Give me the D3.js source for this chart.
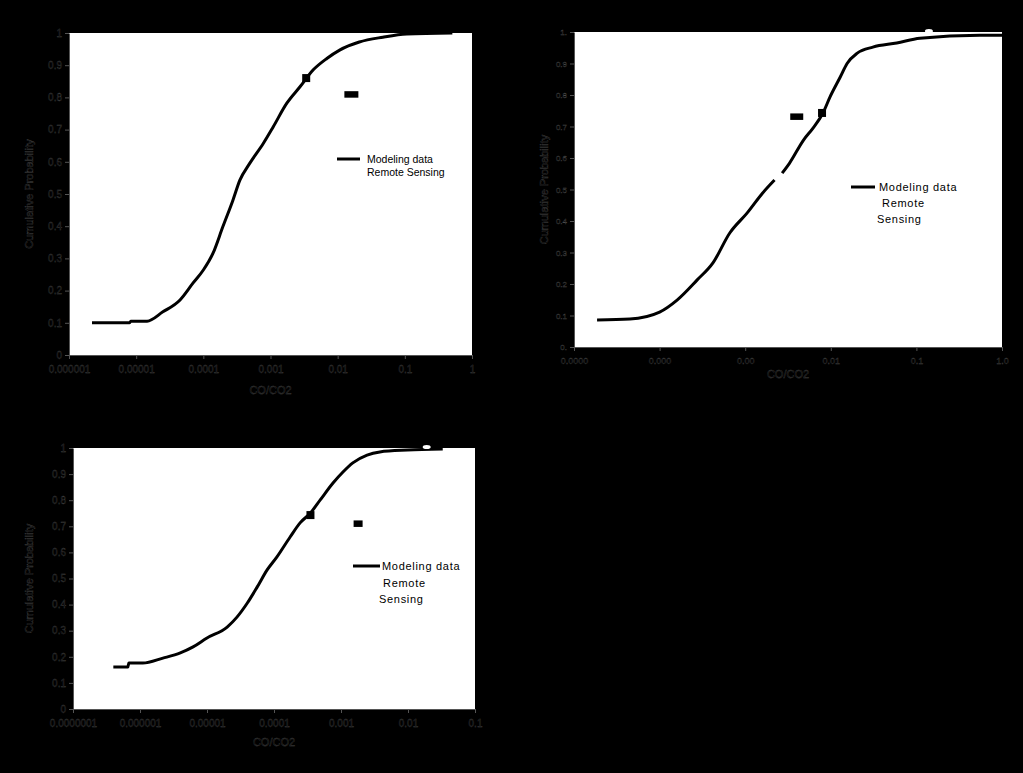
<!DOCTYPE html>
<html><head><meta charset="utf-8">
<script src="https://cdn.jsdelivr.net/npm/d3@7"></script>
<style>
html,body{margin:0;padding:0;background:#000;}
svg{display:block;}
</style></head>
<body><svg id="c" width="1023" height="773"></svg>
<script>
// ---------- data ----------
const yTicks = [0,0.1,0.2,0.3,0.4,0.5,0.6,0.7,0.8,0.9,1];
const yTickLabels = ["0","0.1","0.2","0.3","0.4","0.5","0.6","0.7","0.8","0.9","1"];
const yTickLabels2 = ["0.","0.1","0.2","0.3","0.4","0.5","0.6","0.7","0.8","0.9","1."];

const xTicks1 = [1e-6,1e-5,1e-4,1e-3,1e-2,1e-1,1];
const xTickLabels1 = ["0.000001","0.00001","0.0001","0.001","0.01","0.1","1"];
const xTicks2 = [1e-5,1e-4,1e-3,1e-2,1e-1,1];
const xTickLabels2 = ["0.0000","0.000","0.00","0.01","0.1","1.0"];
const xTicks3 = [1e-7,1e-6,1e-5,1e-4,1e-3,1e-2,1e-1];
const xTickLabels3 = ["0.0000001","0.000001","0.00001","0.0001","0.001","0.01","0.1"];

const series = ["Modeling data","Remote Sensing"];

// panel 1 modeling CDF
const model1X = [2.2e-6,8e-6,8.3e-6,1.45e-5,2.5e-5,4.5e-5,7e-5,1e-4,1.4e-4,1.95e-4,2.75e-4,3.5e-4,4.9e-4,7.8e-4,1.1e-3,1.75e-3,2.75e-3,4.3e-3,6.9e-3,1.07e-2,2.1e-2,4.7e-2,0.107,0.51];
const model1Y = [0.1,0.1,0.105,0.105,0.134,0.171,0.223,0.264,0.317,0.398,0.48,0.543,0.595,0.657,0.709,0.782,0.833,0.885,0.921,0.947,0.972,0.987,0.997,1.0];
// panel 2 modeling CDF (gap shown as null)
const model2X = [1.86e-5,4.5e-5,1e-4,1.6e-4,2.75e-4,4.2e-4,6.6e-4,1.05e-3,1.6e-3,2.2e-3,null,2.7e-3,3.3e-3,4.8e-3,6.2e-3,8.1e-3,9.8e-3,1.29e-2,1.55e-2,2.04e-2,3.1e-2,5.9e-2,0.11,0.55,1];
const model2Y = [0.086,0.089,0.111,0.149,0.213,0.267,0.362,0.425,0.489,0.53,null,0.552,0.584,0.657,0.695,0.743,0.794,0.857,0.9,0.933,0.952,0.965,0.98,0.99,0.99];
// panel 3 modeling CDF
const model3X = [4e-7,6.6e-7,6.8e-7,1.1e-6,2.2e-6,4e-6,6.2e-6,1e-5,2e-5,2.8e-5,4e-5,5.6e-5,7.9e-5,1.1e-4,1.74e-4,2.45e-4,3.5e-4,4.9e-4,7.6e-4,1.07e-3,1.5e-3,2.45e-3,3.8e-3,9.8e-3,3.3e-2];
const model3Y = [0.161,0.161,0.176,0.176,0.195,0.215,0.238,0.272,0.314,0.352,0.406,0.467,0.533,0.582,0.659,0.713,0.751,0.801,0.866,0.908,0.943,0.973,0.985,0.992,0.996];

// remote sensing points (x, y)
const remote1 = [0.016, 0.81];
const remote2 = [0.004, 0.732];
const remote3 = [0.0018, 0.711];
// highlighted points on the modeling curves
const mark1 = [0.0034, 0.86];
const mark2 = [0.0079, 0.743];
const mark3 = [0.00035, 0.743];
// small white points at top
const white2 = [0.14, 1.0];
const white3 = [0.019, 1.0];

// ---------- drawing ----------
const svg = d3.select("#c");
const TXT = "#000", OUT = "#4a4a4a", SW = 0.3, FONT = "Liberation Sans, Arial, sans-serif";

function panel(o){
  const g = svg.append("g");
  const x = d3.scaleLog().domain(o.xDomain).range([o.left,o.right]);
  const y = d3.scaleLinear().domain([0,1]).range([o.bottom,o.top]);
  g.append("rect").attr("x",o.left).attr("y",o.top)
    .attr("width",o.right-o.left).attr("height",o.bottom-o.top).attr("fill","#fff");

  const xa = d3.axisBottom(x).tickValues(o.xTicks).tickFormat((d,i)=>o.xLabels[i]).tickSize(4).tickSizeOuter(0);
  const gx = g.append("g").attr("transform",`translate(0,${o.bottom})`).call(xa);
  const ya = d3.axisLeft(y).tickValues(yTicks).tickFormat((d,i)=>o.yLabels[i]).tickSize(4).tickSizeOuter(0);
  const gy = g.append("g").attr("transform",`translate(${o.left},0)`).call(ya);
  [gx,gy].forEach(a=>{
    a.selectAll("path").attr("stroke","#555").attr("stroke-width",1);
    a.selectAll("line").attr("stroke","#555");
    a.selectAll("text").attr("fill",TXT).attr("stroke",OUT).attr("stroke-width",SW)
      .attr("font-family",FONT).attr("font-size",o.tickFont);
  });
  gy.selectAll("text").attr("font-size",o.yTickFont);
  gx.selectAll("text").attr("dy","1.1em");

  g.append("text").attr("transform",`translate(${o.yTitleX},${(o.top+o.bottom)/2}) rotate(-90)`)
    .attr("text-anchor","middle").attr("fill",TXT).attr("stroke",OUT).attr("stroke-width",SW)
    .attr("font-family",FONT).attr("font-size",11)
    .text("Cumulative Probability");
  g.append("text").attr("x",(o.left+o.right)/2).attr("y",o.xTitleY)
    .attr("text-anchor","middle").attr("fill",TXT).attr("stroke",OUT).attr("stroke-width",SW)
    .attr("font-family",FONT).attr("font-size",11)
    .text("CO/CO2");

  const pts = o.mx.map((d,i)=>[d,o.my[i]]);
  const line = d3.line().defined(d=>d[0]!=null).x(d=>x(d[0])).y(d=>y(d[1])).curve(d3.curveMonotoneX);
  g.append("path").attr("d",line(pts)).attr("fill","none").attr("stroke","#000")
    .attr("stroke-width",3);

  g.append("rect").attr("x",x(o.mark[0])-4).attr("y",y(o.mark[1])-4)
    .attr("width",8).attr("height",8).attr("fill","#000");
  g.append("rect").attr("x",x(o.remote[0])-o.rw/2).attr("y",y(o.remote[1])-3)
    .attr("width",o.rw).attr("height",6.5).attr("fill","#000");
  if(o.white){
    g.append("ellipse").attr("cx",x(o.white[0])).attr("cy",y(o.white[1])-1)
      .attr("rx",4).attr("ry",2).attr("fill","#fff");
  }

  // legend
  const L = o.legend;
  g.append("line").attr("x1",L.x1).attr("x2",L.x2).attr("y1",L.y).attr("y2",L.y)
    .attr("stroke","#000").attr("stroke-width",3);
  L.lines.forEach((t,i)=>{
    g.append("text").attr("x",L.tx[i]).attr("y",L.y+4+i*L.dy)
      .attr("fill","#000").attr("font-family",FONT).attr("letter-spacing",L.ls)
      .attr("font-size",L.fs).text(t);
  });
}

panel({left:69,right:472,top:33,bottom:355,xDomain:[1e-6,1],xTicks:xTicks1,xLabels:xTickLabels1,
  yLabels:yTickLabels,tickFont:10,yTickFont:10,yTitleX:33,xTitleY:394,mx:model1X,my:model1Y,
  mark:mark1,remote:remote1,rw:14,
  legend:{x1:337,x2:360,y:159,tx:[367,367],dy:13,fs:10.5,ls:0,lines:[series[0],series[1]]}});

panel({left:574,right:1002,top:32,bottom:347,xDomain:[1e-5,1],xTicks:xTicks2,xLabels:xTickLabels2,
  yLabels:yTickLabels2,tickFont:9,yTickFont:8,yTitleX:548,xTitleY:378,mx:model2X,my:model2Y,
  mark:mark2,remote:remote2,rw:13,white:white2,
  legend:{x1:851,x2:875,y:187,tx:[879,882,877],dy:16,fs:11,ls:0.7,lines:[series[0],"Remote","Sensing"]}});

panel({left:73,right:475,top:448,bottom:709,xDomain:[1e-7,0.1],xTicks:xTicks3,xLabels:xTickLabels3,
  yLabels:yTickLabels,tickFont:10,yTickFont:10,yTitleX:33,xTitleY:746,mx:model3X,my:model3Y,
  mark:mark3,remote:remote3,rw:9,white:white3,
  legend:{x1:353,x2:380,y:566,tx:[382,383,379],dy:16.5,fs:11,ls:0.7,lines:[series[0],"Remote","Sensing"]}});
</script></body></html>
